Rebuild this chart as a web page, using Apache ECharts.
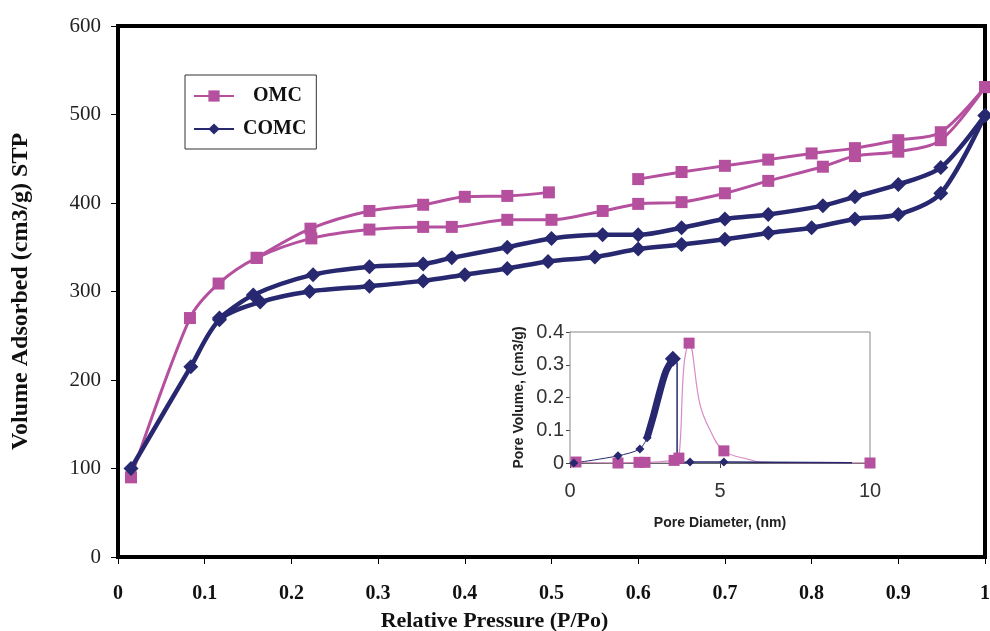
<!DOCTYPE html>
<html>
<head>
<meta charset="utf-8">
<script src="https://cdn.jsdelivr.net/npm/echarts@6/dist/echarts.min.js"></script>
<style>
  html, body { margin: 0; padding: 0; background: #fff; }
  #chart { width: 990px; height: 631px; }
</style>
</head>
<body>
<div id="chart"></div>
<script>
// isotherm, [P/Po, volume]
const omcAds = [[0.015, 90], [0.083, 270], [0.116, 309], [0.16, 338], [0.223, 360], [0.29, 370],
  [0.352, 373], [0.385, 373], [0.449, 381], [0.5, 381], [0.559, 391], [0.6, 399], [0.65, 401],
  [0.7, 411], [0.75, 425], [0.813, 441], [0.85, 453], [0.9, 458], [0.949, 471], [1.0, 531]]
const omcDes = [[0.16, 338], [0.222, 371], [0.29, 391], [0.352, 398], [0.4, 407], [0.449, 408],
  [0.497, 412], [0.55, null], [0.6, 427], [0.65, 435], [0.7, 442], [0.75, 449], [0.8, 456],
  [0.85, 462], [0.9, 471], [0.949, 480], [1.0, 531]]
const comcAds = [[0.015, 100], [0.084, 215], [0.117, 268], [0.164, 288], [0.221, 300], [0.29, 306],
  [0.352, 312], [0.4, 319], [0.449, 326], [0.496, 334], [0.55, 339], [0.6, 348], [0.65, 353],
  [0.7, 359], [0.75, 366], [0.8, 372], [0.85, 382], [0.9, 387], [0.949, 411], [1.0, 499]]
const comcDes = [[0.117, 270], [0.156, 296], [0.225, 319], [0.29, 328], [0.352, 331], [0.385, 338],
  [0.449, 350], [0.5, 360], [0.559, 364], [0.6, 364], [0.65, 372], [0.7, 382], [0.75, 387],
  [0.813, 397], [0.85, 407], [0.9, 421], [0.949, 440], [1.0, 499]]

// pore size distribution, [nm, cm3/g]
const comcPore = [[0.13, 0], [1.6, 0.022], [2.33, 0.043], [2.57, 0.077]]
const comcPorePeak = [[2.57, 0.077], [2.8, 0.15], [3.0, 0.22], [3.2, 0.28], [3.43, 0.318]]
const comcPoreTail = [[3.43, 0.318], [3.57, 0.305], [3.57, 0], [4.0, 0.003], [5.13, 0.003], [9.4, 0.001]]
const comcPoreMarks = [[0.13, 0], [1.6, 0.022], [2.33, 0.043], [2.57, 0.077], [4.0, 0.003], [5.13, 0.003]]
const omcPoreLine = [[0.2, 0.003], [1.6, 0], [2.3, 0.002], [2.5, 0.002], [3.47, 0.008], [3.63, 0.015],
  [3.8, 0.3], [3.97, 0.366], [4.33, 0.18], [4.67, 0.1], [5.13, 0.037], [6.0, 0.01], [6.4, 0.002],
  [10, 0]]
const omcPoreMarks = [[0.2, 0.003], [1.6, 0], [2.3, 0.002], [2.5, 0.002], [3.47, 0.008], [3.63, 0.015],
  [3.97, 0.366], [5.13, 0.037], [10, 0]]

const PINK = '#B5509F'
const NAVY = '#27286F'
const serif = 'Liberation Serif, Times New Roman, serif'
const sans = 'Liberation Sans, Arial, sans-serif'

const chart = echarts.init(document.getElementById('chart'))

const mainLine = (name, data, color, width, symbol, size) => ({
  name, type: 'line', data, smooth: 0.3, connectNulls: false,
  xAxisIndex: 0, yAxisIndex: 0,
  symbol, symbolSize: size,
  lineStyle: { color, width },
  itemStyle: { color },
  z: 3
})

chart.setOption({
  animation: false,
  backgroundColor: '#fff',
  legend: {
    data: ['OMC', 'COMC'],
    orient: 'vertical',
    left: 185, top: 75,
    padding: [11, 10, 10, 8],
    itemGap: 13,
    itemWidth: 40, itemHeight: 14,
    borderColor: '#333', borderWidth: 1,
    formatter: n => (n === 'OMC' ? '  OMC' : n),
    textStyle: { fontFamily: serif, fontWeight: 'bold', fontSize: 20, color: '#111', padding: [0, 4, 0, 4] }
  },
  grid: [
    { left: 118, right: 5, top: 26, bottom: 74, show: true, borderColor: '#000', borderWidth: 4,
      outerBoundsMode: 'none' },
    { left: 570, top: 332, width: 300, height: 131, show: true, backgroundColor: '#fff',
      borderColor: '#888', borderWidth: 1, z: 4, outerBoundsMode: 'none' }
  ],
  xAxis: [
    {
      type: 'value', gridIndex: 0, min: 0, max: 1, interval: 0.1,
      name: 'Relative Pressure (P/Po)', nameLocation: 'middle', nameGap: 53,
      nameTextStyle: { fontFamily: serif, fontWeight: 'bold', fontSize: 22, color: '#111', padding: [0, 114, 0, 0] },
      axisLine: { lineStyle: { color: '#000', width: 4 } },
      axisTick: { show: true, length: 7, lineStyle: { color: '#000', width: 1 } },
      axisLabel: { margin: 27, fontFamily: serif, fontWeight: 'bold', fontSize: 20, color: '#111' },
      splitLine: { show: false }
    },
    {
      type: 'value', gridIndex: 1, min: 0, max: 10, interval: 5,
      name: 'Pore Diameter, (nm)', nameLocation: 'middle', nameGap: 53,
      nameTextStyle: { fontFamily: sans, fontWeight: 'bold', fontSize: 14, color: '#222' },
      axisLine: { onZero: false, lineStyle: { color: '#444', width: 1 } },
      axisTick: { show: true, length: 5, lineStyle: { color: '#444' } },
      axisLabel: { margin: 18, fontFamily: sans, fontSize: 20, color: '#333' },
      splitLine: { show: false }
    }
  ],
  yAxis: [
    {
      type: 'value', gridIndex: 0, min: 0, max: 600, interval: 100,
      name: 'Volume Adsorbed (cm3/g) STP', nameLocation: 'middle', nameGap: 85,
      nameTextStyle: { fontFamily: serif, fontWeight: 'bold', fontSize: 24, color: '#111' },
      axisLine: { lineStyle: { color: '#000', width: 4 } },
      axisTick: { show: true, length: 7, lineStyle: { color: '#000', width: 1 } },
      axisLabel: { margin: 17, fontFamily: serif, fontSize: 21, color: '#222' },
      splitLine: { show: false }
    },
    {
      type: 'value', gridIndex: 1, min: 0, max: 0.4, interval: 0.1,
      name: 'Pore Volume, (cm3/g)', nameLocation: 'middle', nameGap: 44,
      nameTextStyle: { fontFamily: sans, fontWeight: 'bold', fontSize: 14, color: '#222' },
      axisLine: { lineStyle: { color: '#444', width: 1 } },
      axisTick: { show: true, length: 4, lineStyle: { color: '#444' } },
      axisLabel: { margin: 6, fontFamily: sans, fontSize: 20, color: '#333' },
      splitLine: { show: false }
    }
  ],
  series: [
    mainLine('OMC', omcAds, PINK, 3, 'rect', 12),
    mainLine('OMC', omcDes, PINK, 3, 'rect', 12),
    mainLine('COMC', comcAds, NAVY, 4.5, 'diamond', 15),
    mainLine('COMC', comcDes, NAVY, 4.5, 'diamond', 15),

    // inset
    { name: 'omc-pore', type: 'line', xAxisIndex: 1, yAxisIndex: 1, data: omcPoreLine, smooth: 0.4,
      showSymbol: false, lineStyle: { color: '#D98AC6', width: 1.2 }, z: 5 },
    { name: 'omc-pore-pts', type: 'scatter', xAxisIndex: 1, yAxisIndex: 1, data: omcPoreMarks,
      symbol: 'rect', symbolSize: 11, itemStyle: { color: PINK, opacity: 1 }, z: 6 },
    { name: 'comc-pore', type: 'line', xAxisIndex: 1, yAxisIndex: 1, data: comcPore, smooth: 0.3,
      showSymbol: false, lineStyle: { color: NAVY, width: 1 }, z: 6 },
    { name: 'comc-pore-peak', type: 'line', xAxisIndex: 1, yAxisIndex: 1, data: comcPorePeak, smooth: 0.3,
      showSymbol: false, lineStyle: { color: NAVY, width: 7 }, z: 6 },
    { name: 'comc-pore-tail', type: 'line', xAxisIndex: 1, yAxisIndex: 1, data: comcPoreTail,
      showSymbol: false, lineStyle: { color: NAVY, width: 1.5 }, z: 6 },
    { name: 'comc-pore-pts', type: 'scatter', xAxisIndex: 1, yAxisIndex: 1, data: comcPoreMarks,
      symbol: 'diamond', symbolSize: 9, itemStyle: { color: NAVY, opacity: 1 }, z: 7 },
    { name: 'comc-pore-top', type: 'scatter', xAxisIndex: 1, yAxisIndex: 1, data: [comcPorePeak[comcPorePeak.length - 1]],
      symbol: 'diamond', symbolSize: 16, itemStyle: { color: NAVY, opacity: 1 }, z: 7 }
  ]
})
</script>
</body>
</html>
